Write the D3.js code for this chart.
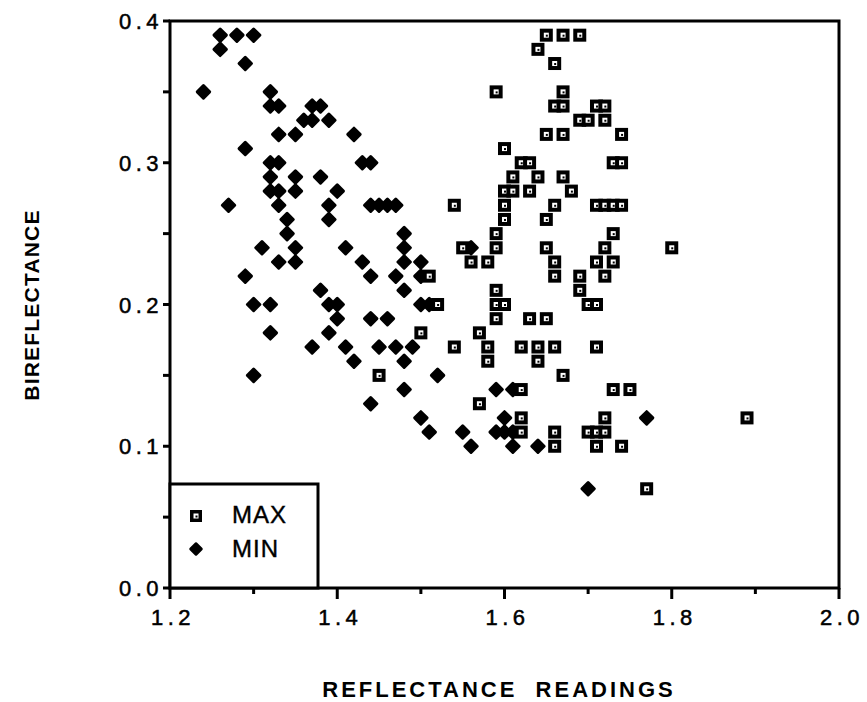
<!DOCTYPE html>
<html>
<head>
<meta charset="utf-8">
<script src="https://cdn.jsdelivr.net/npm/d3@7"></script>
<style>
  html, body { margin: 0; padding: 0; background: #fff; }
  svg { display: block; }
  text { font-family: "Liberation Sans", Arial, Helvetica, sans-serif; fill: #000; }
</style>
</head>
<body>
<svg id="chart" width="867" height="702"></svg>
<script>
// ---- data (reflectance reading, bireflectance) ----
const maxX = [1.65,1.67,1.69, 1.64, 1.66, 1.59,1.67, 1.66,1.67,1.71,1.72, 1.69,1.70,1.72,
  1.65,1.67,1.74, 1.60, 1.62,1.63,1.73,1.74, 1.61,1.64,1.67, 1.60,1.61,1.63,1.68,
  1.54,1.60,1.66,1.71,1.72,1.73,1.74, 1.60,1.65, 1.59,1.73, 1.55,1.59,1.65,1.72,1.80,
  1.56,1.58,1.66,1.71,1.73, 1.51,1.66,1.69,1.72, 1.59,1.69, 1.52,1.59,1.60,1.70,1.71,
  1.59,1.63,1.65, 1.50,1.57, 1.54,1.58,1.62,1.64,1.66,1.71, 1.58,1.64, 1.45,1.67,
  1.62,1.73,1.75, 1.57, 1.62,1.72,1.89, 1.62,1.66,1.70,1.71,1.72, 1.66,1.71,1.74, 1.77];
const maxY = [0.39,0.39,0.39, 0.38, 0.37, 0.35,0.35, 0.34,0.34,0.34,0.34, 0.33,0.33,0.33,
  0.32,0.32,0.32, 0.31, 0.30,0.30,0.30,0.30, 0.29,0.29,0.29, 0.28,0.28,0.28,0.28,
  0.27,0.27,0.27,0.27,0.27,0.27,0.27, 0.26,0.26, 0.25,0.25, 0.24,0.24,0.24,0.24,0.24,
  0.23,0.23,0.23,0.23,0.23, 0.22,0.22,0.22,0.22, 0.21,0.21, 0.20,0.20,0.20,0.20,0.20,
  0.19,0.19,0.19, 0.18,0.18, 0.17,0.17,0.17,0.17,0.17,0.17, 0.16,0.16, 0.15,0.15,
  0.14,0.14,0.14, 0.13, 0.12,0.12,0.12, 0.11,0.11,0.11,0.11,0.11, 0.10,0.10,0.10, 0.07];

const minX = [1.26,1.28,1.30, 1.26, 1.29, 1.24,1.32, 1.32,1.33,1.37,1.38, 1.36,1.37,1.39,
  1.33,1.35,1.42, 1.29, 1.32,1.33,1.43,1.44, 1.32,1.35,1.38, 1.32,1.33,1.35,1.40,
  1.27,1.33,1.39,1.44,1.45,1.46,1.47, 1.34,1.39, 1.34,1.48, 1.31,1.35,1.41,1.48,1.56,
  1.33,1.35,1.43,1.48,1.50, 1.29,1.44,1.47,1.50, 1.38,1.48, 1.30,1.32,1.39,1.40,1.50,1.51,
  1.40,1.44,1.46, 1.32,1.39, 1.37,1.41,1.45,1.47,1.49, 1.42,1.48, 1.30,1.52,
  1.48,1.59,1.61, 1.44, 1.50,1.60,1.77, 1.51,1.55,1.59,1.60,1.61, 1.56,1.61,1.64, 1.70];
const minY = [0.39,0.39,0.39, 0.38, 0.37, 0.35,0.35, 0.34,0.34,0.34,0.34, 0.33,0.33,0.33,
  0.32,0.32,0.32, 0.31, 0.30,0.30,0.30,0.30, 0.29,0.29,0.29, 0.28,0.28,0.28,0.28,
  0.27,0.27,0.27,0.27,0.27,0.27,0.27, 0.26,0.26, 0.25,0.25, 0.24,0.24,0.24,0.24,0.24,
  0.23,0.23,0.23,0.23,0.23, 0.22,0.22,0.22,0.22, 0.21,0.21, 0.20,0.20,0.20,0.20,0.20,0.20,
  0.19,0.19,0.19, 0.18,0.18, 0.17,0.17,0.17,0.17,0.17, 0.16,0.16, 0.15,0.15,
  0.14,0.14,0.14, 0.13, 0.12,0.12,0.12, 0.11,0.11,0.11,0.11,0.11, 0.10,0.10,0.10, 0.07];

const xTickLabels = ["1.2","1.4","1.6","1.8","2.0"];
const yTickLabels = ["0.0","0.1","0.2","0.3","0.4"];
const seriesNames = ["MAX","MIN"];
const xTitle = "REFLECTANCE  READINGS";
const yTitle = "BIREFLECTANCE";

// ---- drawing ----
const svg = d3.select("#chart");
const L = 170, R = 839, T = 21, B = 588;
const x = d3.scaleLinear().domain([1.2, 2.0]).range([L, R]);
const y = d3.scaleLinear().domain([0, 0.4]).range([B, T]);

const minPts = minX.map((v, i) => [v, minY[i]]);
const maxPts = maxX.map((v, i) => [v, maxY[i]]);

function diamond(cx, cy, s) {
  return `M${cx},${cy - s} L${cx + s},${cy} L${cx},${cy + s} L${cx - s},${cy} Z`;
}

svg.append("g").selectAll("path").data(minPts).join("path")
  .attr("d", d => diamond(x(d[0]), y(d[1]), 6.2))
  .attr("fill", "#000").attr("stroke", "#000")
  .attr("stroke-width", 3).attr("stroke-linejoin", "round");

const sq = svg.append("g").selectAll("g").data(maxPts).join("g")
  .attr("transform", d => `translate(${x(d[0])},${y(d[1])})`);
sq.append("rect").attr("x", -6.5).attr("y", -6.5).attr("width", 13).attr("height", 13).attr("fill", "#000");
sq.append("rect").attr("x", -2.5).attr("y", -2.5).attr("width", 5).attr("height", 5).attr("fill", "#fff");
sq.append("rect").attr("x", -0.5).attr("y", -0.5).attr("width", 2).attr("height", 2).attr("fill", "#000");

// frame
svg.append("rect").attr("x", L).attr("y", T).attr("width", R - L).attr("height", B - T)
  .attr("fill", "none").attr("stroke", "#000").attr("stroke-width", 3);

// x axis ticks
const xt = d3.range(0, 9).map(i => 1.2 + i * 0.1);
svg.append("g").selectAll("line").data(xt).join("line")
  .attr("x1", d => x(d)).attr("x2", d => x(d))
  .attr("y1", B).attr("y2", (d, i) => B + (i % 2 === 0 ? 11 : 6))
  .attr("stroke", "#000").attr("stroke-width", 3);
svg.append("g").selectAll("text").data(xTickLabels).join("text")
  .attr("x", (d, i) => x(1.2 + i * 0.2) + 3).attr("y", 625)
  .attr("text-anchor", "middle").attr("font-size", 22).attr("letter-spacing", 4.5)
  .attr("stroke", "#000").attr("stroke-width", 0.5)
  .text(d => d);

// y axis ticks
const yt = d3.range(0, 9).map(i => i * 0.05);
svg.append("g").selectAll("line").data(yt).join("line")
  .attr("x1", L).attr("x2", L - 7)
  .attr("y1", d => y(d)).attr("y2", d => y(d))
  .attr("stroke", "#000").attr("stroke-width", 3);
svg.append("g").selectAll("text").data(yTickLabels).join("text")
  .attr("x", 163).attr("y", (d, i) => y(i * 0.1) + 8)
  .attr("text-anchor", "end").attr("font-size", 22).attr("letter-spacing", 4.5)
  .attr("stroke", "#000").attr("stroke-width", 0.5)
  .text(d => d);

// legend
svg.append("rect").attr("x", L).attr("y", 484).attr("width", 318 - L).attr("height", B - 484)
  .attr("fill", "#fff").attr("stroke", "#000").attr("stroke-width", 3);
const lg = svg.append("g");
lg.append("rect").attr("x", 190).attr("y", 510).attr("width", 12).attr("height", 12).attr("fill", "#000");
lg.append("rect").attr("x", 193.5).attr("y", 513.5).attr("width", 5).attr("height", 5).attr("fill", "#fff");
lg.append("rect").attr("x", 195.5).attr("y", 515.5).attr("width", 2).attr("height", 2).attr("fill", "#000");
lg.append("path").attr("d", diamond(196, 549, 5.5)).attr("fill", "#000").attr("stroke", "#000")
  .attr("stroke-width", 2.5).attr("stroke-linejoin", "round");
lg.selectAll("text").data(seriesNames).join("text")
  .attr("x", 232).attr("y", (d, i) => 523 + i * 34)
  .attr("font-size", 24).attr("letter-spacing", 1)
  .attr("stroke", "#000").attr("stroke-width", 0.4)
  .text(d => d);

// titles
svg.append("text").attr("x", 499).attr("y", 697).attr("text-anchor", "middle")
  .attr("font-size", 22).attr("font-weight", "bold").attr("letter-spacing", 3)
  .style("white-space", "pre").text(xTitle);
svg.append("text").attr("transform", "translate(39,305) rotate(-90)").attr("text-anchor", "middle")
  .attr("font-size", 21).attr("font-weight", "bold").attr("letter-spacing", 1.2)
  .text(yTitle);
</script>
</body>
</html>
